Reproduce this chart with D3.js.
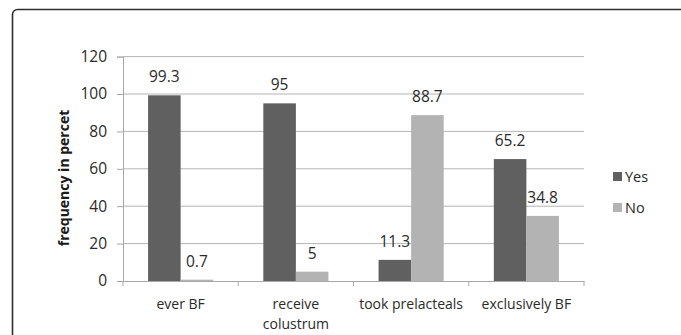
<!DOCTYPE html>
<html>
<head>
<meta charset="utf-8">
<script src="https://cdn.jsdelivr.net/npm/d3@7"></script>
<style>
  html, body { margin: 0; padding: 0; background: #fff; }
  svg { display: block; font-family: "Open Sans", sans-serif; }
</style>
</head>
<body>
<svg id="chart" width="681" height="335"></svg>
<script>
// Breastfeeding practices: share of mothers answering Yes / No
const categories = ["ever BF", "receive\ncolustrum", "took prelacteals", "exclusively BF"];
const seriesNames = ["Yes", "No"];
const yesValues = [99.3, 95, 11.3, 65.2];
const noValues = [0.7, 5, 88.7, 34.8];
const yTicks = [0, 20, 40, 60, 80, 100, 120];
const colors = ["#606060", "#b3b3b3"];

const svg = d3.select("#chart");
const W = 681, H = 335;

// outer frame (runs past the right and bottom edges)
svg.append("rect")
  .attr("x", 12.5).attr("y", 9.5)
  .attr("width", W + 20).attr("height", H + 20)
  .attr("rx", 5).attr("ry", 5)
  .attr("fill", "none").attr("stroke", "#2e2e2e").attr("stroke-width", 1.6);

const plot = { left: 123, right: 584, top: 56.6, bottom: 281 };

const x0 = d3.scaleBand()
  .domain(categories)
  .range([plot.left, plot.right])
  .paddingInner(0).paddingOuter(0);

const x1 = d3.scaleBand()
  .domain(seriesNames)
  .range([0, x0.bandwidth()])
  .paddingInner(0)
  .paddingOuter(0.77);

const y = d3.scaleLinear().domain([0, 120]).range([plot.bottom, plot.top]);

// horizontal gridlines
svg.append("g")
  .selectAll("line")
  .data(yTicks.filter(t => t > 0))
  .join("line")
  .attr("x1", plot.left).attr("x2", plot.right)
  .attr("y1", d => y(d)).attr("y2", d => y(d))
  .attr("stroke", "#b4b4b4").attr("stroke-width", 1);

// y axis
const yAxis = svg.append("g")
  .attr("transform", `translate(${plot.left},0)`)
  .call(d3.axisLeft(y).tickValues(yTicks).tickSize(6).tickPadding(10));
yAxis.select(".domain").attr("stroke", "#a8a8a8");
yAxis.selectAll(".tick line").attr("stroke", "#a8a8a8");
yAxis.selectAll(".tick text")
  .attr("fill", "#2a2a2a").attr("font-size", 15.5)
  .attr("font-family", "Open Sans, sans-serif");

// x axis
const xAxis = svg.append("g")
  .attr("transform", `translate(0,${plot.bottom})`)
  .call(d3.axisBottom(x0).tickSize(0).tickFormat(""));
xAxis.select(".domain").attr("stroke", "#a8a8a8");

// category boundary ticks below the axis
svg.append("g")
  .selectAll("line")
  .data(categories.map(c => x0(c)).concat([plot.right]))
  .join("line")
  .attr("x1", d => d).attr("x2", d => d)
  .attr("y1", plot.bottom).attr("y2", plot.bottom + 5)
  .attr("stroke", "#a8a8a8");

// category labels (multi-line where given)
const catLabels = svg.append("g");
categories.forEach(c => {
  const lines = c.split("\n");
  const t = catLabels.append("text")
    .attr("x", x0(c) + x0.bandwidth() / 2)
    .attr("y", 309)
    .attr("text-anchor", "middle")
    .attr("font-size", 14)
    .attr("fill", "#2a2a2a");
  lines.forEach((ln, i) => {
    t.append("tspan")
      .attr("x", x0(c) + x0.bandwidth() / 2)
      .attr("dy", i === 0 ? 0 : 20)
      .text(ln);
  });
});

// bars
const rows = categories.map((c, i) => ({ cat: c, vals: [yesValues[i], noValues[i]] }));
const groups = svg.append("g")
  .selectAll("g")
  .data(rows)
  .join("g")
  .attr("transform", d => `translate(${x0(d.cat)},0)`);

groups.selectAll("rect")
  .data(d => d.vals.map((v, i) => ({ key: seriesNames[i], v, i })))
  .join("rect")
  .attr("x", d => x1(d.key))
  .attr("width", x1.bandwidth())
  .attr("y", d => y(d.v))
  .attr("height", d => y(0) - y(d.v))
  .attr("fill", d => colors[d.i]);

// value labels
groups.selectAll("text")
  .data(d => d.vals.map((v, i) => ({ key: seriesNames[i], v, i })))
  .join("text")
  .attr("x", d => x1(d.key) + x1.bandwidth() / 2)
  .attr("y", d => y(d.v) - 13)
  .attr("text-anchor", "middle")
  .attr("font-size", 15.5)
  .attr("fill", "#2a2a2a")
  .text(d => d.v);

// y axis title
svg.append("text")
  .attr("transform", "translate(69,178) rotate(-90)")
  .attr("text-anchor", "middle")
  .attr("font-size", 14)
  .attr("font-weight", "bold")
  .attr("fill", "#1a1a1a")
  .text("frequency in percet");

// legend
const legend = svg.append("g");
seriesNames.forEach((s, i) => {
  const ly = 172 + i * 31;
  legend.append("rect")
    .attr("x", 613).attr("y", ly)
    .attr("width", 9).attr("height", 9)
    .attr("fill", colors[i]);
  legend.append("text")
    .attr("x", 625).attr("y", ly + 9.5)
    .attr("font-size", 14.5)
    .attr("fill", "#2a2a2a")
    .text(s);
});
</script>
</body>
</html>
